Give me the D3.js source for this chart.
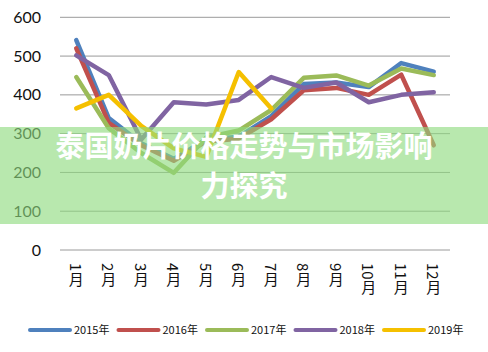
<!DOCTYPE html>
<html lang="zh">
<head>
<meta charset="UTF-8">
<title>泰国奶片价格走势</title>
<script src="https://d3js.org/d3.v7.min.js"></script>
<style>
  body { margin: 0; background: #fff; }
  svg { display: block; font-family: "Noto Sans CJK SC", "Noto Sans", sans-serif; }
</style>
</head>
<body>
<svg width="488" height="352"></svg>
<script>
const months = ["1月", "2月", "3月", "4月", "5月", "6月", "7月", "8月", "9月", "10月", "11月", "12月"];
const yTicks = [0, 100, 200, 300, 400, 500, 600];
const years = ["2015年", "2016年", "2017年", "2018年", "2019年"];

const v2015 = [541, 340, 275, 235, 285, 292, 345, 428, 432, 420, 482, 460];
const v2016 = [520, 328, 270, 230, 280, 287, 337, 412, 418, 400, 452, 270];
const v2017 = [446, 314, 250, 199, 290, 308, 361, 444, 450, 424, 468, 451];
const v2018 = [502, 451, 285, 381, 375, 387, 446, 418, 432, 381, 400, 407];
const v2019 = [365, 400, 320, 262, 240, 459, 365];

const series = [v2015, v2016, v2017, v2018, v2019];
const colors = ["#4f81bd", "#c0504d", "#9bbb59", "#8064a2", "#f5c000"];

const svg = d3.select("svg");

const x = d3.scaleBand().domain(months).range([60, 450]);
const y = d3.scaleLinear().domain([0, 600]).range([250, 17.3]);

// grid
svg.append("g")
  .selectAll("line")
  .data(yTicks)
  .join("line")
  .attr("x1", 60).attr("x2", 450)
  .attr("y1", d => y(d)).attr("y2", d => y(d))
  .attr("stroke", "#9a9a9a").attr("stroke-width", 1);

// y labels
svg.append("g")
  .selectAll("text")
  .data(yTicks)
  .join("text")
  .attr("x", 41).attr("y", d => y(d))
  .attr("dy", "0.35em")
  .attr("text-anchor", "end")
  .attr("font-family", "Lato, 'Noto Sans', sans-serif")
  .attr("font-size", 16)
  .attr("fill", "#111")
  .text(d => d);

// x labels, vertical
svg.append("g")
  .selectAll("text")
  .data(months)
  .join("text")
  .attr("x", d => x(d) + x.bandwidth() / 2)
  .attr("y", 263)
  .style("writing-mode", "vertical-rl")
  .attr("font-size", 15)
  .attr("fill", "#111")
  .text(d => d);

// lines
const line = d3.line()
  .x((d, i) => x(months[i]) + x.bandwidth() / 2)
  .y(d => y(d));

svg.append("g")
  .selectAll("path")
  .data(series)
  .join("path")
  .attr("fill", "none")
  .attr("stroke", (d, i) => colors[i])
  .attr("stroke-width", 4.5)
  .attr("stroke-linejoin", "round")
  .attr("stroke-linecap", "round")
  .attr("d", line);

// legend
const lg = svg.append("g")
  .selectAll("g")
  .data(years)
  .join("g")
  .attr("transform", (d, i) => `translate(${30 + i * 88.5},330)`);
lg.append("line")
  .attr("x1", 0).attr("x2", 40)
  .attr("stroke", (d, i) => colors[i])
  .attr("stroke-width", 4)
  .attr("stroke-linecap", "round");
lg.append("text")
  .attr("x", 44).attr("dy", "0.35em")
  .attr("font-size", 11)
  .attr("fill", "#111")
  .text(d => d);

// title band
svg.append("rect")
  .attr("x", 0).attr("y", 127)
  .attr("width", 488).attr("height", 97)
  .attr("fill", "rgb(143,219,127)")
  .attr("fill-opacity", 0.63);

svg.append("text")
  .attr("x", 244).attr("y", 157)
  .attr("dy", "0.35em")
  .attr("text-anchor", "middle")
  .attr("font-size", 29)
  .attr("font-weight", "bold")
  .attr("fill", "#fff")
  .selectAll("tspan")
  .data(["泰国奶片价格走势与市场影响", "力探究"])
  .join("tspan")
  .attr("x", 244)
  .attr("dy", (d, i) => i ? 40 : 0)
  .text(d => d);
</script>
</body>
</html>
